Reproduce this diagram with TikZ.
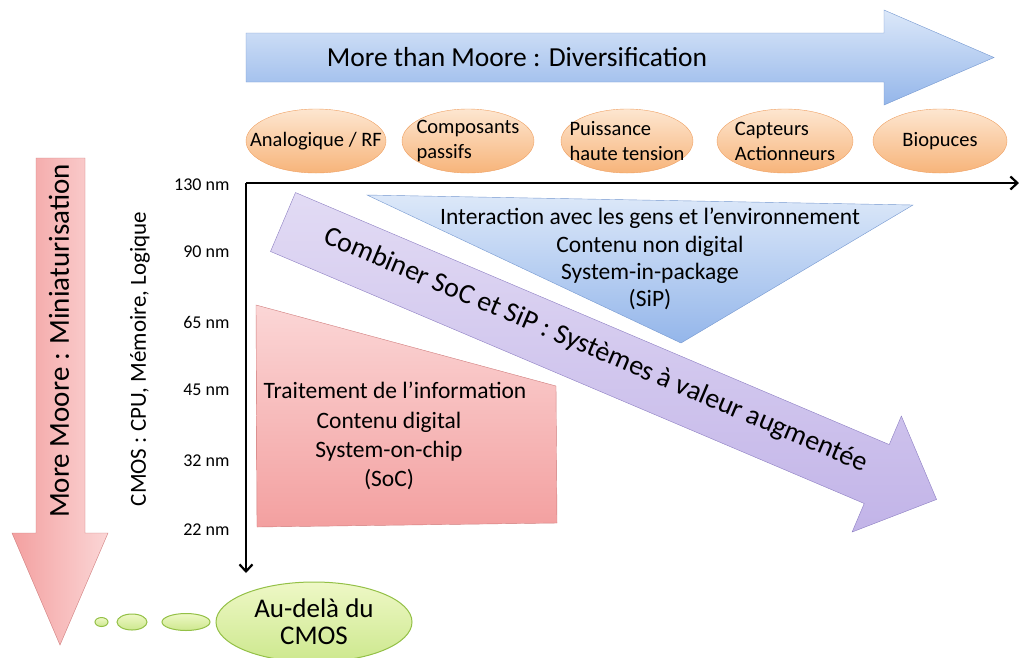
\documentclass[tikz,border=0pt]{standalone}
\usepackage{fontspec}
\setmainfont{Carlito}
\usetikzlibrary{calc,arrows.meta,shapes.geometric}

\definecolor{blueLight}{HTML}{DCE8F9}
\definecolor{blueDark}{HTML}{94B6EA}
\definecolor{blueLine}{HTML}{7598D0}
\definecolor{orangeLight}{HTML}{FDE6D0}
\definecolor{orangeDark}{HTML}{F7B47A}
\definecolor{orangeLine}{HTML}{EFA062}
\definecolor{redLight}{HTML}{FBD6D6}
\definecolor{redDark}{HTML}{F3A0A0}
\definecolor{redLine}{HTML}{CF7C7C}
\definecolor{violetLight}{HTML}{E2DBF4}
\definecolor{violetDark}{HTML}{C2B4E8}
\definecolor{violetLine}{HTML}{8C7EC2}
\definecolor{greenLight}{HTML}{EEF8C6}
\definecolor{greenDark}{HTML}{CDE88E}
\definecolor{greenLine}{HTML}{93C046}

\newcommand{\drawBubble}[5]{% name, x, y, width, text
  \node[bubble,minimum width=#4pt] (#1) at (#2,#3) {};
  \node[bubbletext] (#1txt) at (#1) {#5};
}
\newcommand{\drawBlob}[5]{% name, x, y, width, height
  \node[blob,minimum width=#4pt,minimum height=#5pt] (#1) at (#2,#3) {};
}

\begin{document}
\begin{tikzpicture}[x=1pt,y=-1pt,>={Straight Barb[length=7pt,width=13pt]},
  bubble/.style={ellipse,draw=orangeLine,top color=orangeLight,bottom color=orangeDark,
    minimum height=64pt,inner sep=0pt},
  bubbletext/.style={align=left,inner sep=0pt,font=\fontsize{20.5}{25}\selectfont},
  blob/.style={ellipse,draw=greenLine,line width=1pt,top color=greenLight,bottom color=greenDark,inner sep=0pt},
  nmlabel/.style={anchor=east,font=\fontsize{18}{20}\selectfont},
  boxtext/.style={align=center,font=\fontsize{23.5}{29}\selectfont}]
\useasboundingbox (0,0) rectangle (1019,657);

% More than Moore
\draw[draw=blueLine,top color=blueLight,bottom color=blueDark]
  (246,33) -- (884,33) -- (884,10) -- (994,57.5) -- (884,105) -- (884,82) -- (246,82) -- cycle;
\node[font=\fontsize{27.5}{30}\selectfont] (diversif) at (517,57) {More than Moore : Diversification};

\drawBubble{analog}{316}{141}{140}{Analogique / RF}
\drawBubble{passif}{468}{141}{132}{Composants\\passifs}
\drawBubble{puiss}{627}{141}{132}{Puissance\\haute tension}
\drawBubble{capteur}{785}{141}{136}{Capteurs\\Actionneurs}
\drawBubble{biopuce}{940}{141}{134}{Biopuces}

% More Moore
\draw[draw=redLine,left color=redDark,right color=redLight]
  (36,158) -- (85,158) -- (85,533) -- (108,533) -- (60,645) -- (12,533) -- (36,533) -- cycle;
\node[rotate=90,font=\fontsize{29}{32}\selectfont] (minia) at (59,341) {More Moore : Miniaturisation};
\node[rotate=90,font=\fontsize{23}{26}\selectfont] (cmos) at (140,359) {CMOS : CPU, Mémoire, Logique};

% Axes
\coordinate (origin) at (246,183);
\coordinate (xend) at (1019,183);
\coordinate (yend) at (246,573);
\draw[line width=2.2pt,->] (origin) -- (xend);
\draw[line width=2.2pt,->] (origin) -- (yend);

\foreach \val/\ypos in {130/185,90/252,65/322,45/390,32/461,22/530}
  \node[nmlabel] (nm\val) at (233,\ypos) {\val~nm};

% SoC
\draw[draw=redLine,top color=redLight,bottom color=redDark]
  (256,305) -- (556,386) -- (557,523) -- (257,527) -- cycle;
\node[boxtext] (soctitle) at (395,390) {Traitement de l’information};
\node[boxtext] (soc) at (389,451) {Contenu digital\\System-on-chip\\(SoC)};

% SiP
\draw[draw=blueLine,top color=blueLight,bottom color=blueDark]
  (367,195) -- (913,205) -- (681,343) -- cycle;
\node[boxtext,font=\fontsize{23.5}{27.3}\selectfont] (sip) at (650,259)
  {Interaction avec les gens et l’environnement\\Contenu non digital\\System-in-package\\(SiP)};

% SoC + SiP
\begin{scope}[shift={(283,222)},rotate=-23]
  \draw[draw=violetLine,top color=violetLight,bottom color=violetDark]
    (0,-32) -- (645,-32) -- (645,-63) -- (710,0) -- (645,63) -- (645,32) -- (0,32) -- cycle;
  \node[rotate=-23,font=\fontsize{28}{30}\selectfont] (combiner) at (338,-4)
    {Combiner SoC et SiP : Systèmes à valeur augmentée};
\end{scope}

% Au-dela du CMOS
\drawBlob{blobA}{101.5}{622}{13}{9}
\drawBlob{blobB}{132}{622}{30}{16}
\drawBlob{blobC}{186}{622}{48}{17}
\node[blob,minimum width=196pt,minimum height=80pt,align=center,
  font=\fontsize{27}{27}\selectfont] (beyond) at (314,622) {Au-delà du\\CMOS};

\end{tikzpicture}
\end{document}
